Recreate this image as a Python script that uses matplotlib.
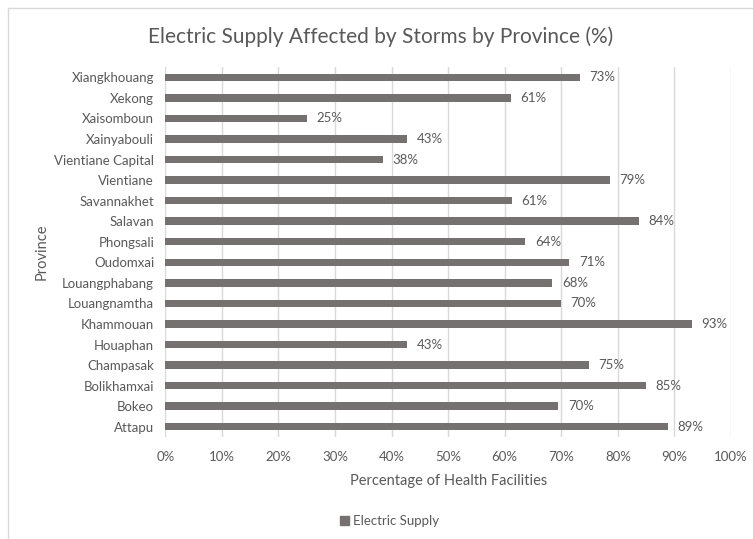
import matplotlib.pyplot as plt
from matplotlib.lines import Line2D
from matplotlib.patches import Patch

# data (top to bottom as drawn)
provinces = ["Xiangkhouang", "Xekong", "Xaisomboun", "Xainyabouli", "Vientiane Capital",
             "Vientiane", "Savannakhet", "Salavan", "Phongsali", "Oudomxai",
             "Louangphabang", "Louangnamtha", "Khammouan", "Houaphan", "Champasak",
             "Bolikhamxai", "Bokeo", "Attapu"]
electric = [73.3, 61.1, 25.0, 42.8, 38.4, 78.6, 61.2, 83.7, 63.6, 71.4,
            68.4, 69.9, 93.1, 42.8, 74.9, 84.9, 69.5, 88.8]
xticks = [0, 10, 20, 30, 40, 50, 60, 70, 80, 90, 100]

bar_col = "#767171"
txt_col = "#595959"
plt.rcParams['font.family'] = ['Lato', 'DejaVu Sans']

fig = plt.figure(figsize=(7.53, 5.39), dpi=100)
ax = fig.add_axes([0.2195, 0.1892, 0.7513, 0.6865])

# chart border (left and top edges visible)
fig.add_artist(Line2D([8/753, 8/753], [0, 1 - 8/539], transform=fig.transFigure, color="#d9d9d9", lw=1))
fig.add_artist(Line2D([8/753, 1], [1 - 8/539, 1 - 8/539], transform=fig.transFigure, color="#d9d9d9", lw=1))

ypos = list(range(len(provinces)))
ax.barh(ypos, electric, height=0.36, color=bar_col, zorder=3)
for y, v in zip(ypos, electric):
    ax.annotate(f"{round(v)}%", (v, y), xytext=(7, 0), textcoords="offset points",
                va="center", ha="left", fontsize=9.5, color=txt_col)

ax.set_ylim(len(provinces) - 0.5, -0.5)
ax.set_yticks(ypos)
ax.set_yticklabels(provinces, fontsize=9.5, color=txt_col)
ax.set_xlim(0, 100)
ax.set_xticks(xticks)
ax.set_xticklabels([f"{t}%" for t in xticks], fontsize=9.5, color=txt_col)
ax.tick_params(length=0, pad=10)
ax.tick_params(axis="y", pad=8)
ax.grid(axis="x", color="#d9d9d9", lw=1, zorder=0)
for s in ax.spines.values():
    s.set_visible(False)

ax.set_xlabel("Percentage of Health Facilities", fontsize=10.5, color=txt_col, labelpad=8)
ax.set_ylabel("Province", fontsize=10.5, color=txt_col, labelpad=4)
fig.text(0.505, 1 - 37/539, "Electric Supply Affected by Storms by Province (%)",
         ha="center", va="center", fontsize=15, color=txt_col)

fig.legend(handles=[Patch(color=bar_col, label="Electric Supply")], loc="center",
           bbox_to_anchor=(0.517, 1 - 521/539), frameon=False, fontsize=9.5,
           handlelength=0.7, handleheight=0.7, handletextpad=0.3, labelcolor=txt_col)

fig.savefig("out.png", dpi=100)
